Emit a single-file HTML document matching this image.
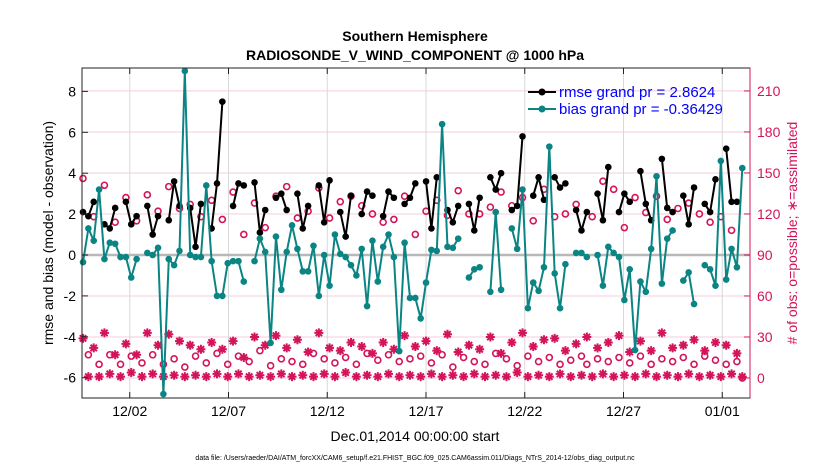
<!DOCTYPE html>
<html><head><meta charset="utf-8"><style>
body{margin:0;background:#fff;}
svg{display:block;font-family:"Liberation Sans",Arial,sans-serif;}
</style></head><body>
<svg id="chart" width="830" height="470" viewBox="0 0 830 470" xmlns="http://www.w3.org/2000/svg">
<rect x="0" y="0" width="830" height="470" fill="#fff"/>
<g id="grid"></g>
<g id="series"></g>
<rect x="82" y="68" width="668" height="330" fill="none" stroke="#222" stroke-width="1"/>
<line x1="750" y1="68" x2="750" y2="398" stroke="#d4145a" stroke-width="1"/>
<g id="ticks"></g>
<text x="415" y="41" text-anchor="middle" font-size="14" font-weight="bold">Southern Hemisphere</text>
<text x="415" y="60" text-anchor="middle" font-size="14" font-weight="bold">RADIOSONDE_V_WIND_COMPONENT @ 1000 hPa</text>
<text transform="translate(53,233) rotate(-90)" text-anchor="middle" font-size="14">rmse and bias (model - observation)</text>
<text transform="translate(797,233) rotate(-90)" text-anchor="middle" font-size="14" fill="#d4145a"># of obs: o=possible; ∗=assimilated</text>
<text x="415" y="441" text-anchor="middle" font-size="14">Dec.01,2014 00:00:00 start</text>
<text x="415" y="460" text-anchor="middle" font-size="7">data file: /Users/raeder/DAI/ATM_forcXX/CAM6_setup/f.e21.FHIST_BGC.f09_025.CAM6assim.011/Diags_NTrS_2014-12/obs_diag_output.nc</text>
<g>
<line x1="528" y1="92" x2="556" y2="92" stroke="#000" stroke-width="2"/>
<circle cx="542" cy="92" r="3.5" fill="#000"/>
<text x="559" y="97" font-size="15" fill="#0000ff">rmse grand pr = 2.8624</text>
<line x1="528" y1="109" x2="556" y2="109" stroke="#0b8484" stroke-width="2"/>
<circle cx="542" cy="109" r="3.5" fill="#0b8484"/>
<text x="559" y="114" font-size="15" fill="#0000ff">bias grand pr = -0.36429</text>
</g>
</svg>
<script>
const bias = [-0.35,1.3,0.7,3.2,-0.2,0.6,0.55,-0.1,-0.1,-1.1,-0.2,null,0.1,0,0.35,-6.8,-0.2,-0.5,0.2,9,0,-0.1,-0.1,3.4,-0.3,-2,-2,-0.4,-0.3,-0.3,-1.3,
null,-0.3,0.8,0.15,-4.3,0.9,-1.7,0.15,1.45,0.3,-0.8,-0.8,0.45,-2.0,0.0,-1.5,1.0,0.05,-0.1,-0.5,-1.0,0.3,-2.5,0.7,-1.3,0.4,1.0,-0.1,-4.7,0.6,-2.1,-2.1,
-3.1,-1.35,0.25,0.2,6.4,0.4,0.35,0.8,null,-1.1,-0.7,-0.6,null,-1.8,2.1,-1.7,null,1.3,0.3,3.2,-2.6,-1.35,-1.75,-0.6,5.3,-0.9,-2.6,-0.45,null,0.1,0.1,
-0.1,null,0,-1.5,0.4,0.1,-0.1,-2.2,-0.7,-4.65,-1.3,-1.8,0.3,3.85,-1.4,0.8,1.2,null,-1.25,-0.85,-2.4,null,-0.5,-0.7,-1.5,4.6,-1.2,0.3,-0.6,4.25];
const rmse = [2.1,1.9,2.6,null,1.5,1.3,2.3,null,2.6,1.5,1.9,null,2.4,1.0,1.9,null,1.7,3.6,2.4,null,2.3,0.4,2.5,null,1.3,3.5,7.5,null,2.4,3.5,3.4,
null,3.55,1.1,2.2,null,2.8,3.0,2.2,null,3.0,1.3,2.4,null,3.4,1.6,3.65,null,2.1,0.9,2.9,null,2.0,3.1,2.9,null,1.9,3.1,2.8,null,2.5,2.8,3.5,
null,3.6,1.3,3.8,null,2.2,1.6,2.4,null,2.5,1.2,2.8,null,3.8,3.2,4.0,null,2.2,2.4,5.8,null,2.9,3.8,2.7,null,3.8,3.3,3.5,null,2.2,1.2,
2.1,null,3.0,1.7,4.3,null,2.1,3.0,2.6,null,4.1,2.5,1.7,null,4.7,2.3,2.1,null,2.9,1.5,3.3,null,2.5,2.1,3.7,null,5.2,2.6,2.6,null];
const possible = [146,17,118,10,141,17,114,10,132,16,115,11,134,17,122,10,140,14,124,8,127,16,118,11,130,18,116,10,136,16,105,
12,128,20,110,9,133,14,140,12,117,10,122,18,139,14,117,11,129,15,133,10,126,18,120,13,114,17,116,12,133,14,105,
16,122,11,130,17,119,8,137,15,120,12,120,10,125,18,136,14,126,9,132,16,115,12,138,15,118,10,120,13,127,16,
10,118,14,144,12,138,15,110,11,132,16,121,10,133,14,116,12,124,15,128,10,120,16,114,13,118,10,108,12,0];
const assimilated = [29,1,22,1,33,3,17,1,25,4,17,1,33,3,24,1,32,2,27,1,24,2,21,1,26,3,21,1,27,3,15,
1,30,2,24,1,31,3,22,1,28,2,19,1,33,3,22,1,20,4,26,1,23,2,18,1,26,3,21,1,31,2,23,
1,27,3,20,1,32,2,19,1,24,3,21,1,30,2,18,1,26,4,33,1,23,2,28,1,29,3,20,1,25,2,
30,1,22,3,26,1,31,2,19,1,27,3,20,1,33,2,22,1,24,3,28,1,20,2,26,1,24,3,18,1];
const dateLabels = ["12/02","12/07","12/12","12/17","12/22","12/27","01/01"];
const dateDays = [1,6,11,16,21,26,31];
const leftTicks = [-6,-4,-2,0,2,4,6,8];
const rightTicks = [0,30,60,90,120,150,180,210];

const NS="http://www.w3.org/2000/svg";
const X0=83, STEP=5.36;
const xIdx = i => X0 + i*STEP;
const xDay = d => 110 + d*19.75;
const yL = v => 255 - v*20.45;
const yR = c => 378 - c*1.367;
function mk(tag, parent, attrs){const e=document.createElementNS(NS,tag);for(const k in attrs)e.setAttribute(k,attrs[k]);parent.appendChild(e);return e;}
const grid=document.getElementById('grid'), ser=document.getElementById('series'), tk=document.getElementById('ticks');
rightTicks.forEach(c=>{
  const l=mk('line',grid,{x1:82,x2:750,y1:yR(c),y2:yR(c),stroke:'#f3cddd','stroke-width':1});
  
  
  const t=mk('line',tk,{x1:744,x2:750,y1:yR(c),y2:yR(c),stroke:'#d4145a'});
  
  
  const tx=mk('text',tk,{x:757,y:yR(c)+5,'font-size':14,fill:'#d4145a'});tx.textContent=c;
  
  
});
dateDays.forEach((d,i)=>{
  const l=mk('line',grid,{x1:xDay(d),x2:xDay(d),y1:68,y2:398,stroke:'#d8d8d8','stroke-width':1});
  
  
  const t1=mk('line',tk,{x1:xDay(d),x2:xDay(d),y1:392,y2:398,stroke:'#222'});
  
  
  const t2=mk('line',tk,{x1:xDay(d),x2:xDay(d),y1:68,y2:74,stroke:'#222'});
  
  
  const tx=mk('text',tk,{x:xDay(d),y:416,'font-size':14,'text-anchor':'middle'});tx.textContent=dateLabels[i];
  
  
});
leftTicks.forEach(v=>{
  const t=mk('line',tk,{x1:82,x2:88,y1:yL(v),y2:yL(v),stroke:'#222'});
  
  
  const tx=mk('text',tk,{x:76,y:yL(v)+5,'font-size':14,'text-anchor':'end'});tx.textContent=v;
  
  
});
const zl=mk('line',grid,{x1:82,x2:750,y1:yL(0),y2:yL(0),stroke:'#b8b8b8','stroke-width':2.5});



// possible (circles)
possible.forEach((c,i)=>{
  const e=mk('circle',ser,{cx:xIdx(i),cy:yR(c),r:3,fill:'none',stroke:'#d4145a','stroke-width':1.6});
  
  
});
// assimilated (asterisks)
assimilated.forEach((c,i)=>{
  const x=xIdx(i),y=yR(c),r=4.5,d=3.2;
  const e=mk('path',ser,{d:`M${x-r} ${y}H${x+r}M${x} ${y-r}V${y+r}M${x-d} ${y-d}L${x+d} ${y+d}M${x-d} ${y+d}L${x+d} ${y-d}`,stroke:'#d4145a','stroke-width':2});
  
  
});
function drawLine(arr,color,name){
  let d='',pen=false;
  arr.forEach((v,i)=>{ if(v===null){pen=false;return;} d+=(pen?'L':'M')+xIdx(i).toFixed(1)+' '+yL(v).toFixed(1); pen=true;});
  const p=mk('path',ser,{d:d,fill:'none',stroke:color,'stroke-width':2,'stroke-linejoin':'round'});
  
  
  arr.forEach((v,i)=>{ if(v===null)return;
    const c=mk('circle',ser,{cx:xIdx(i),cy:yL(v),r:3.3,fill:color});
    
    
  });
}
drawLine(rmse,'#000','rmse');
drawLine(bias,'#0b8484','bias');
</script>
</body></html>
